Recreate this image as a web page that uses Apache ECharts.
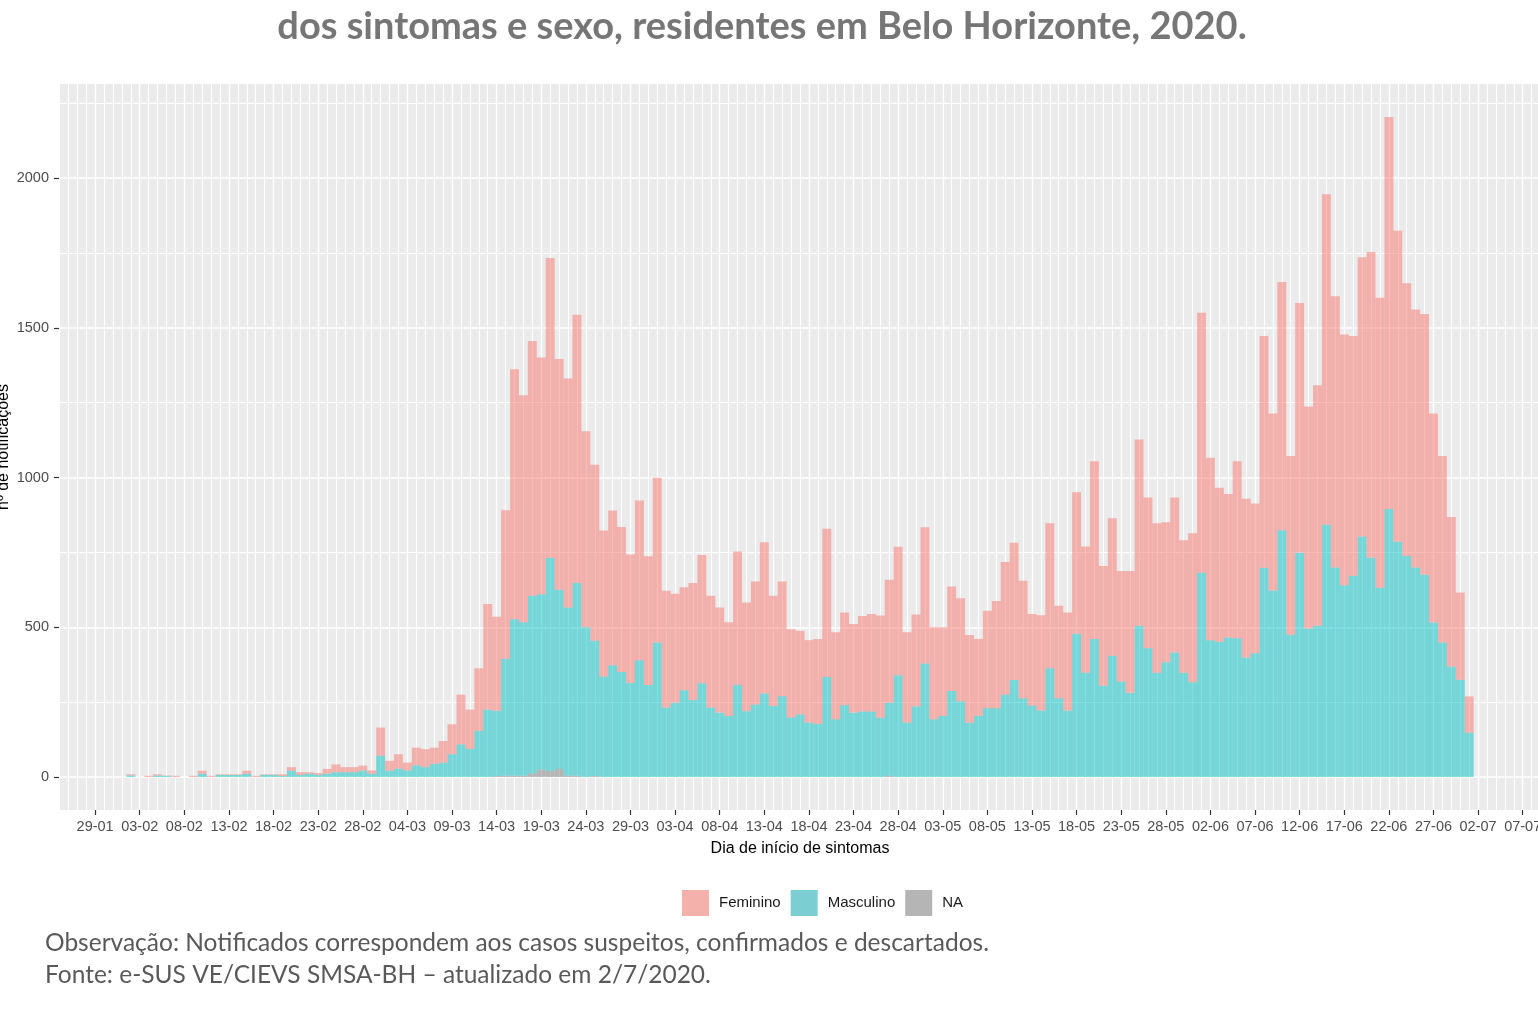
<!DOCTYPE html>
<html lang="pt-br">
<head>
<meta charset="utf-8">
<title>Notificações por dia de início dos sintomas e sexo</title>
<script src="https://cdn.jsdelivr.net/npm/echarts@6.0.0/dist/echarts.min.js"></script>
<style>
  html, body { margin: 0; padding: 0; background: #fff; }
  #main { width: 1538px; height: 1032px; }
</style>
</head>
<body>
<div id="main"></div>
<script type="text/javascript">
// eixo x em dias contados a partir de 29-01-2020 (dia 0)
// os valores comecam em 02-02 (dia 4) e vao ate 01-07 (dia 154)
var firstDataDay = 4;

var tickLabels = ['29-01', '03-02', '08-02', '13-02', '18-02', '23-02', '28-02', '04-03', '09-03',
  '14-03', '19-03', '24-03', '29-03', '03-04', '08-04', '13-04', '18-04', '23-04', '28-04',
  '03-05', '08-05', '13-05', '18-05', '23-05', '28-05', '02-06', '07-06', '12-06', '17-06',
  '22-06', '27-06', '02-07', '07-07'];

var seriesNames = ['Feminino', 'Masculino', 'NA'];

var femValues = [
  4, 0, 4, 4, 1, 4, 0, 4, 10, 4,
  2, 2, 2, 10, 4, 2, 2, 6, 12, 9,
  5, 6, 16, 26, 17, 17, 17, 11, 94, 33,
  48, 26, 59, 60, 54, 72, 100, 166, 131, 209,
  353, 314, 496, 835, 758, 851, 791, 1002, 771, 765,
  896, 655, 588, 487, 517, 484, 429, 533, 430, 550,
  390, 364, 344, 391, 428, 373, 351, 313, 446, 363,
  411, 505, 368, 383, 294, 279, 275, 284, 495, 290,
  309, 296, 319, 325, 341, 411, 429, 301, 307, 455,
  307, 296, 349, 344, 293, 257, 325, 358, 443, 458,
  392, 305, 318, 484, 309, 327, 473, 422, 593, 400,
  459, 369, 407, 622, 503, 499, 468, 517, 443, 498,
  868, 609, 514, 479, 591, 530, 500, 774, 591, 829,
  597, 834, 741, 803, 1104, 905, 838, 801, 933, 1021,
  968, 1309, 1038, 911, 861, 871, 698, 623, 499, 291,
  121
];

var mascValues = [
  5, 0, 0, 5, 4, 0, 0, 0, 11, 0,
  7, 7, 7, 11, 0, 7, 7, 3, 21, 7,
  11, 7, 11, 16, 16, 16, 21, 11, 71, 21,
  28, 22, 39, 33, 44, 48, 76, 109, 94, 154,
  225, 218, 391, 523, 513, 593, 585, 711, 598, 561,
  644, 500, 452, 336, 373, 351, 314, 390, 307, 449,
  232, 248, 290, 257, 313, 232, 215, 204, 307, 220,
  242, 279, 237, 270, 199, 209, 182, 177, 334, 193,
  240, 215, 219, 219, 198, 244, 340, 182, 236, 379,
  193, 204, 287, 253, 181, 204, 230, 230, 275, 324,
  263, 239, 222, 363, 263, 222, 478, 348, 461, 305,
  405, 319, 281, 505, 430, 348, 383, 416, 348, 316,
  682, 457, 452, 466, 463, 399, 413, 699, 623, 824,
  475, 749, 496, 505, 842, 700, 640, 672, 803, 732,
  632, 895, 786, 738, 700, 675, 516, 449, 369, 325,
  148
];

var naValues = [
  0, 0, 0, 0, 0, 0, 0, 0, 0, 0,
  0, 0, 0, 0, 0, 0, 0, 0, 0, 0,
  0, 0, 0, 0, 0, 0, 0, 0, 0, 0,
  0, 0, 0, 0, 0, 0, 0, 0, 0, 0,
  0, 3, 4, 4, 4, 12, 25, 20, 27, 5,
  4, 0, 3, 0, 0, 0, 0, 0, 0, 0,
  0, 0, 0, 0, 0, 0, 0, 0, 0, 0,
  0, 0, 0, 0, 0, 0, 0, 0, 0, 0,
  0, 0, 0, 0, 0, 4, 0, 0, 0, 0,
  0, 0, 0, 0, 0, 0, 0, 0, 0, 0,
  0, 0, 0, 0, 0, 0, 0, 0, 0, 0,
  0, 0, 0, 0, 0, 0, 0, 0, 0, 0,
  0, 0, 0, 0, 0, 0, 0, 0, 0, 0,
  0, 0, 0, 0, 0, 0, 0, 0, 0, 0,
  0, 0, 0, 0, 0, 0, 0, 0, 0, 0,
  0
];

var yMajor = [0, 500, 1000, 1500, 2000];
var yMinor = [250, 750, 1250, 1750, 2250];

// cores do ggplot com alpha 0.5; na legenda a mesma cor ja misturada ao cinza
var barColors = ['rgba(248,118,109,0.5)', 'rgba(0,191,196,0.5)', 'rgba(127,127,127,0.5)'];
var keyColors = ['#F4B1AC', '#7BCFD3', '#B5B5B5'];

// limites do painel (em dias) e geometria
var xMin = -4.05, xMax = 162.05;
var yMin = -110.2, yMax = 2314.2;
var panel = { left: 59, top: 84, width: 1482, height: 726 };
var pxPerDay = panel.width / (xMax - xMin);

// dias inteiros para as barras (categoria = um dia)
var catFirst = -4, catLast = 162;
var dayCats = [];
for (var d = catFirst; d <= catLast; d++) dayCats.push(String(d));

var majorTicks = tickLabels.map(function (l, i) { return i * 5; });
var dailyTicks = [];
for (var d2 = catFirst; d2 <= catLast; d2++) dailyTicks.push(d2);

function toCats(values) {
  return dayCats.map(function (c, i) {
    var k = catFirst + i - firstDataDay;
    return (k >= 0 && k < values.length) ? values[k] : null;
  });
}

var labelFont = 'Liberation Sans';

var myChart = echarts.init(document.getElementById('main'));
var option = {
  animation: false,
  backgroundColor: '#ffffff',
  graphic: [
    { type: 'text', x: 762, y: 27,
      style: { text: 'dos sintomas e sexo, residentes em Belo Horizonte, 2020.', fill: '#767676',
        font: 'bold 38px Lato', align: 'center', verticalAlign: 'middle' } },
    { type: 'text', x: 45, y: 943,
      style: { text: 'Observação: Notificados correspondem aos casos suspeitos, confirmados e descartados.',
        fill: '#595959', font: '24.5px Lato', align: 'left', verticalAlign: 'middle' } },
    { type: 'text', x: 45, y: 975,
      style: { text: 'Fonte: e-SUS VE/CIEVS SMSA-BH \u2013 atualizado em 2/7/2020.',
        fill: '#595959', font: '24.5px Lato', align: 'left', verticalAlign: 'middle' } }
  ],
  legend: {
    left: 677, top: 885,
    icon: 'rect',
    itemWidth: 27, itemHeight: 26, itemGap: 10,
    selectedMode: false,
    textStyle: { fontFamily: labelFont, fontSize: 15, color: '#1a1a1a', padding: [0, 0, 0, 5] },
    data: seriesNames.map(function (n, i) { return { name: n, itemStyle: { color: keyColors[i] } }; })
  },
  grid: [
    // painel cinza com as linhas de grade
    { left: panel.left, top: panel.top, width: panel.width, height: panel.height,
      show: true, backgroundColor: '#EBEBEB', borderWidth: 0, outerBoundsMode: 'none' },
    // barras: uma categoria por dia, alinhada ao mesmo painel
    { left: panel.left + (catFirst - 0.5 - xMin) * pxPerDay, top: panel.top,
      width: (catLast - catFirst + 1) * pxPerDay, height: panel.height,
      show: false, outerBoundsMode: 'none' }
  ],
  xAxis: [
    {
      gridIndex: 0, type: 'value', min: xMin, max: xMax,
      name: 'Dia de início de sintomas', nameLocation: 'middle', nameGap: 31, nameMoveOverlap: false,
      nameTextStyle: { fontFamily: labelFont, fontSize: 16, color: '#000' },
      axisLine: { show: false, onZero: false },
      axisTick: { show: true, customValues: majorTicks, length: 5, lineStyle: { color: '#333', width: 1.2 } },
      axisLabel: {
        customValues: majorTicks, margin: 9, fontFamily: labelFont, fontSize: 14.5, color: '#4D4D4D',
        formatter: function (v) { return tickLabels[Math.round(v / 5)]; }
      },
      splitLine: { show: true, lineStyle: { color: '#ffffff', width: 1.4 } }
    },
    {
      gridIndex: 0, type: 'value', min: xMin, max: xMax, position: 'bottom',
      axisLine: { show: false, onZero: false },
      axisTick: { show: false, customValues: dailyTicks },
      axisLabel: { show: false },
      splitLine: { show: true, lineStyle: { color: '#ffffff', width: 1.1 } }
    },
    {
      gridIndex: 1, type: 'category', data: dayCats, boundaryGap: true, show: false
    }
  ],
  yAxis: [
    {
      gridIndex: 0, type: 'value', min: yMin, max: yMax,
      name: 'nº de notificações', nameLocation: 'middle', nameRotate: 90, nameGap: 47, nameMoveOverlap: false,
      nameTextStyle: { fontFamily: labelFont, fontSize: 16, color: '#000' },
      axisLine: { show: false, onZero: false },
      axisTick: { show: true, customValues: yMajor, length: 5, lineStyle: { color: '#333', width: 1.2 } },
      axisLabel: {
        customValues: yMajor, margin: 10, fontFamily: labelFont, fontSize: 14.5, color: '#4D4D4D',
        formatter: function (v) { return String(v); }
      },
      splitLine: { show: true, lineStyle: { color: '#ffffff', width: 1.6 } }
    },
    {
      gridIndex: 0, type: 'value', min: yMin, max: yMax, position: 'left',
      axisLine: { show: false, onZero: false },
      axisTick: { show: false, customValues: yMinor },
      axisLabel: { show: false },
      splitLine: { show: true, lineStyle: { color: '#ffffff', width: 1.2 } }
    },
    {
      gridIndex: 1, type: 'value', min: yMin, max: yMax, show: false
    }
  ],
  // empilhado: NA embaixo, depois Masculino, Feminino em cima (como no ggplot)
  series: [
    { name: 'NA', type: 'bar', xAxisIndex: 2, yAxisIndex: 2, stack: 'sexo',
      data: toCats(naValues), barCategoryGap: '0%', itemStyle: { color: barColors[2] } },
    { name: 'Masculino', type: 'bar', xAxisIndex: 2, yAxisIndex: 2, stack: 'sexo',
      data: toCats(mascValues), barCategoryGap: '0%', itemStyle: { color: barColors[1] } },
    { name: 'Feminino', type: 'bar', xAxisIndex: 2, yAxisIndex: 2, stack: 'sexo',
      data: toCats(femValues), barCategoryGap: '0%', itemStyle: { color: barColors[0] } }
  ]
};
myChart.setOption(option);
</script>
</body>
</html>
